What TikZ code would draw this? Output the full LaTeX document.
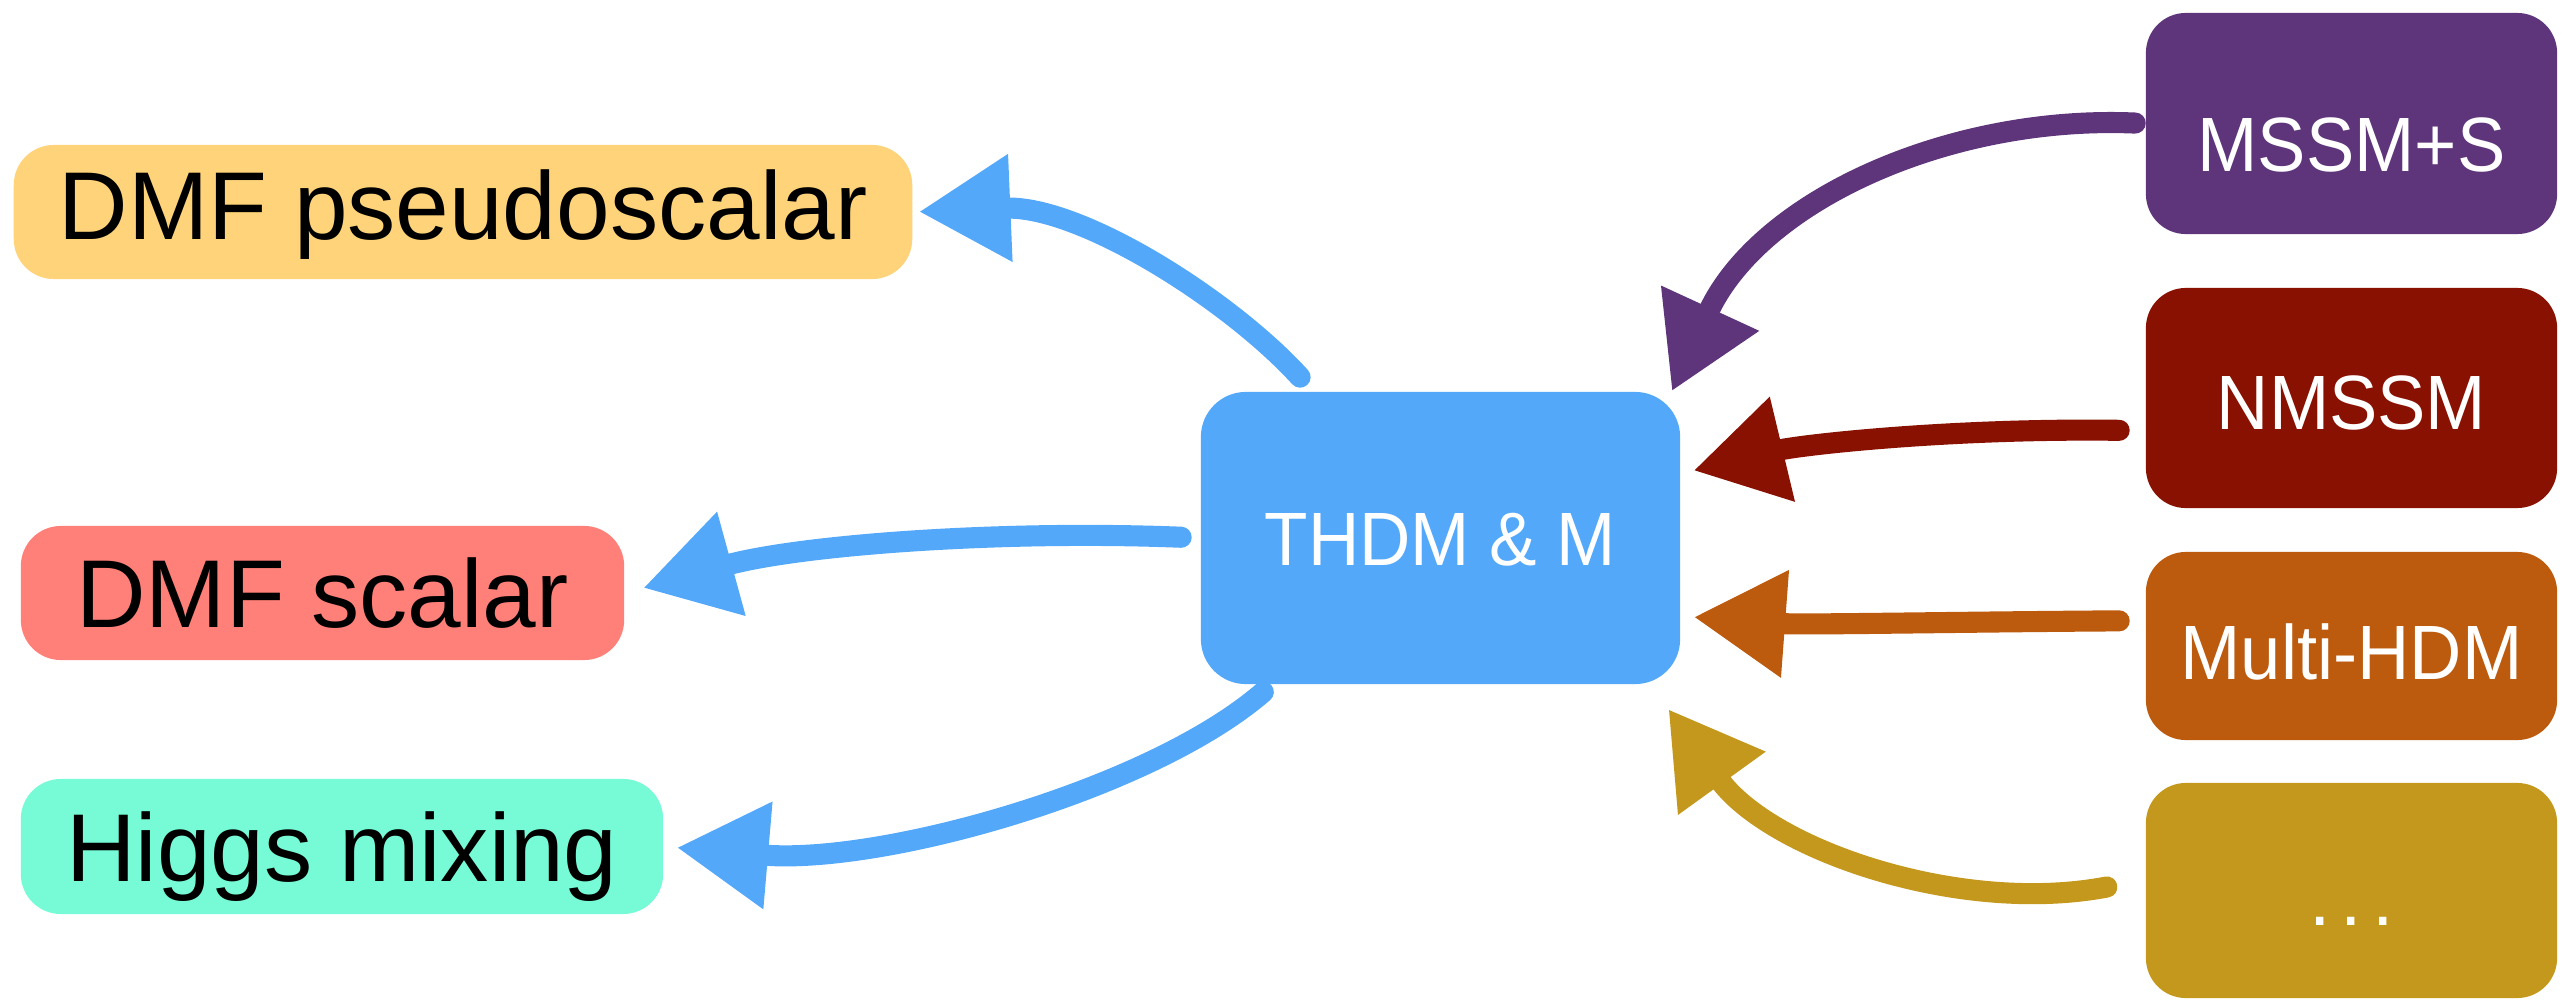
\documentclass[tikz,border=0pt]{standalone}
\usepackage{fontspec}
\setmainfont{Liberation Sans}
\usetikzlibrary{arrows.meta}
\definecolor{cpseudo}{RGB}{254,211,122}
\definecolor{cscalar}{RGB}{255,128,121}
\definecolor{chiggs}{RGB}{118,251,214}
\definecolor{cthdm}{RGB}{83,168,250}
\definecolor{cmssm}{RGB}{94,52,122}
\definecolor{cnmssm}{RGB}{136,17,2}
\definecolor{cmhdm}{RGB}{188,90,14}
\definecolor{cdots}{RGB}{196,152,28}
\newcommand\narrowtext[1]{\scalebox{0.94}[1]{#1}}
\begin{document}
\begin{tikzpicture}[x=0.01cm,y=-0.01cm,
  leftbox/.style={rounded corners=0.4cm, inner sep=0pt, font=\fontsize{27.4}{30}\selectfont, text=black, text height=0.69cm, text depth=0pt},
  rightbox/.style={rounded corners=0.4cm, inner sep=0pt, font=\fontsize{21.9}{26}\selectfont, text=white, minimum width=4.11cm, text depth=0pt},
  brush/.style={line width=6pt, line cap=round, -{Triangle[length=26pt,width=29pt]}}]
\useasboundingbox (0,0) rectangle (2575,1000);
% left boxes
\node[leftbox, fill=cpseudo, minimum width=8.98cm, minimum height=1.34cm, text depth=0.15cm] (dmfp) at (463,212) {DMF pseudoscalar};
\node[leftbox, fill=cscalar, minimum width=6.03cm, minimum height=1.34cm] (dmfs) at (322.5,593) {DMF scalar};
\node[leftbox, fill=chiggs, minimum width=6.42cm, minimum height=1.35cm] (higgs) at (342,846.5) {Higgs mixing};
% centre
\node[rounded corners=0.45cm, inner sep=0pt, fill=cthdm, text=white, font=\fontsize{21.5}{26}\selectfont, minimum width=4.79cm, minimum height=2.92cm, text height=0.54cm, text depth=0pt] (thdm) at (1440.5,538) {\narrowtext{THDM \& M}};
% right boxes
\node[rightbox, fill=cmssm, minimum height=2.21cm, text height=0.95cm] (mssm) at (2351.5,123.5) {\narrowtext{MSSM+S}};
\node[rightbox, fill=cnmssm, minimum height=2.20cm, text height=0.62cm] (nmssm) at (2351.5,398) {\narrowtext{NMSSM}};
\node[rightbox, fill=cmhdm, minimum height=1.88cm, text height=0.66cm] (mhdm) at (2351.5,646) {\narrowtext{Multi-HDM}};
\node[rightbox, fill=cdots, minimum height=2.15cm, text height=0.69cm] (dots) at (2351.5,890.5) {.\hspace{0.1cm}.\hspace{0.1cm}.};
% arrows out of THDM
\draw[brush, cthdm, shorten <=0.19cm, shorten >=0.06cm] (thdm.131) .. controls (1230,300) and (1080,205) .. (dmfp.east);
\draw[brush, cthdm, shorten <=0.19cm, shorten >=0.19cm] (thdm.west) .. controls (1000,530) and (800,545) .. (dmfs.east);
\draw[brush, cthdm, shorten <=0.11cm, shorten >=0.13cm] (thdm.221) .. controls (1150,790) and (880,865) .. (higgs.east);
% arrows into THDM
\draw[brush, cmssm, shorten <=0.10cm] (mssm.west) .. controls (1950,115) and (1760,200) .. ([xshift=-0.09cm]thdm.north east);
\draw[brush, cnmssm, shorten <=0.26cm, shorten >=0.13cm] (nmssm.189) .. controls (1950,428) and (1800,445) .. (thdm.15);
\draw[brush, cmhdm, shorten <=0.26cm, shorten >=0.13cm] (mhdm.173) .. controls (1950,622) and (1800,625) .. (thdm.-18);
\draw[brush, cdots, shorten <=0.39cm, shorten >=0.30cm] (dots.177) .. controls (1960,915) and (1770,850) .. ([xshift=-0.3cm]thdm.south east);
\end{tikzpicture}
\end{document}
